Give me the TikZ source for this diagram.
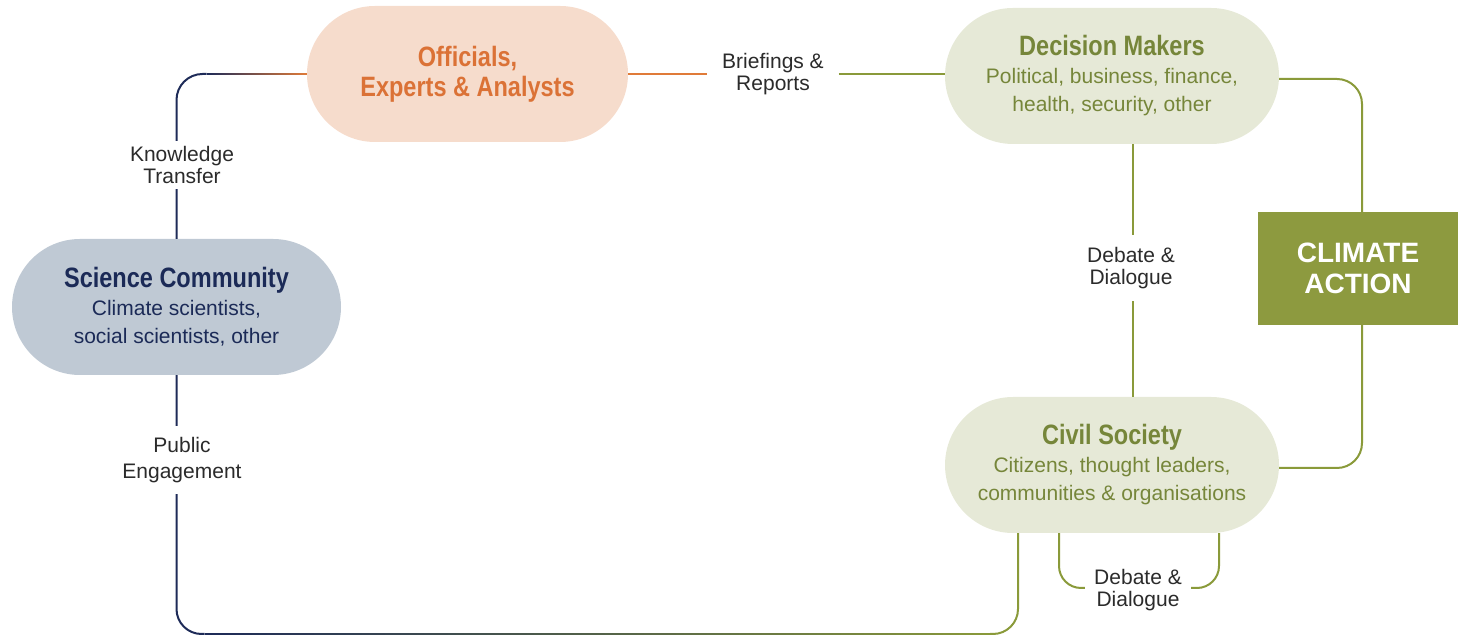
\documentclass[tikz,border=0pt]{standalone}
\usepackage{fontspec}
\setmainfont{Liberation Sans}
\newfontfamily\headfont[FakeStretch=0.84]{Liberation Sans}
\usetikzlibrary{calc,shapes.misc}
\definecolor{navyc}{HTML}{1E2B58}
\definecolor{orangec}{HTML}{E07B39}
\definecolor{orangetxt}{HTML}{DB7236}
\definecolor{orangefill}{HTML}{F6DCCC}
\definecolor{olivec}{HTML}{8A9A3A}
\definecolor{olivetxt}{HTML}{76863A}
\definecolor{olivefill}{HTML}{E6E9D7}
\definecolor{scifill}{HTML}{BFC9D4}
\definecolor{scitxt}{HTML}{1B2A57}
\definecolor{cafill}{HTML}{8D9A3F}
\definecolor{labtxt}{HTML}{2B2B2B}
\newcommand\gradline[4]{%
  \foreach \i [evaluate=\i as \p using {int(100-\i)}, evaluate=\i as \q using {min(1,(\i+1.6)/100)}] in {0,...,99}{%
    \draw[conn, #3!\p!#4] ($(#1)!{\i/100}!(#2)$) -- ($(#1)!{\q}!(#2)$);
  }}
\begin{document}
\begin{tikzpicture}[x=1pt,y=1pt,
  pill/.style={rounded rectangle, minimum height=136pt, inner sep=0pt, align=center,
    font={\fontsize{21}{28}\selectfont}},
  conn/.style={line width=2pt, line cap=butt},
  lab/.style={fill=white, text=labtxt, align=center, inner sep=0pt,
    font={\fontsize{21}{22}\selectfont}}]
\useasboundingbox (0,0) rectangle (1458,636);

% nodes
\node[pill, fill=orangefill, text=orangetxt, minimum width=321pt,
  font={\headfont\bfseries\fontsize{28}{30}\selectfont}] (off) at (467.5,562)
  {Officials,\\Experts \& Analysts};
\node[pill, fill=olivefill, text=olivetxt, minimum width=334pt] (dm) at (1112,560)
  {{\headfont\bfseries\fontsize{28}{28}\selectfont Decision Makers}\\Political, business, finance,\\health, security, other};
\node[pill, fill=scifill, text=scitxt, minimum width=329pt] (sci) at (176.5,329)
  {{\headfont\bfseries\fontsize{28}{28}\selectfont Science Community}\\Climate scientists,\\social scientists, other};
\node[pill, fill=olivefill, text=olivetxt, minimum width=334pt] (civ) at (1112,171)
  {{\headfont\bfseries\fontsize{28}{28}\selectfont Civil Society}\\Citizens, thought leaders,\\communities \& organisations};
\node[fill=cafill, text=white, minimum width=200pt, minimum height=113pt, inner sep=0pt, align=center,
  font={\bfseries\fontsize{28}{31}\selectfont}] (ca) at (1358,367.5) {CLIMATE\\ACTION};

% labels
\node[lab, inner xsep=15pt] (brief) at (773,562) {Briefings \&\\Reports};

% Knowledge transfer
\coordinate (k1) at ($(sci.north |- off.west)+(30,0)$);
\draw[conn, navyc, rounded corners=26pt] (sci.north) |- (k1);
\gradline{k1}{off.west}{navyc}{orangec}

% Briefings
\draw[conn, orangec] (off.east) -- (brief.west |- off.east);
\draw[conn, olivec] (brief.east |- off.east) -- (dm.west |- off.east);

% Decision makers / civil society to climate action
\draw[conn, olivec, rounded corners=25pt] ($(dm.east)+(0,-3)$) -| ($(ca.north)+(4,0)$);
\draw[conn, olivec, rounded corners=25pt] ($(civ.east)+(0,-3)$) -| ($(ca.south)+(4,0)$);

% Debate vertical
\draw[conn, olivec] ($(dm.south)+(21,0)$) -- ($(civ.north)+(21,0)$);

% Public engagement
\coordinate (bc) at (0,2);
\coordinate (b0) at ($(civ.south)+(-94,0)$);
\coordinate (b1) at ($(sci.south |- bc)+(28,0)$);
\coordinate (b2) at ($(b0 |- bc)+(-28,0)$);
\draw[conn, navyc, rounded corners=25pt] (sci.south) |- (b1);
\gradline{b1}{b2}{navyc}{olivec}
\draw[conn, olivec, rounded corners=25pt] (b2) -| (b0);

% Debate loop
\coordinate (dl) at (0,48);
\coordinate (d1) at ($(civ.south)+(-53,0)$);
\coordinate (d2) at ($(civ.south)+(107,0)$);
\draw[conn, olivec, rounded corners=22pt] (d1) |- (d2 |- dl) -- (d2);

% white-backed labels on lines
\node[lab, inner sep=5pt] (kt) at (182,471) {Knowledge\\Transfer};
\node[lab, inner xsep=5pt, inner ysep=11pt] (pe) at (182,176) {Public\\[4pt]Engagement};
\node[lab, inner xsep=5pt, inner ysep=12pt] (dd1) at (1131,368) {Debate \&\\Dialogue};
\node[lab, inner xsep=9pt, inner ysep=3pt] (dd2) at (1138,46) {Debate \&\\Dialogue};
\end{tikzpicture}
\end{document}
